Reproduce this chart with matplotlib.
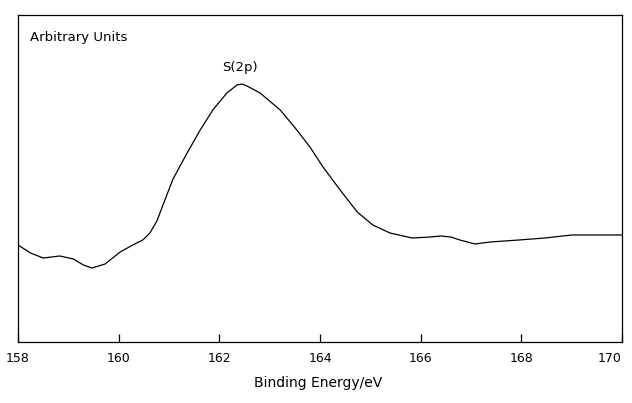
import matplotlib
matplotlib.use("Agg")
import matplotlib.pyplot as plt

# Binding energy (eV) and intensity (arbitrary units)
energy = [158.00, 158.25, 158.50, 158.83, 159.10, 159.30, 159.47, 159.73, 160.03, 160.28,
          160.48, 160.62, 160.76, 160.88, 161.08, 161.36, 161.62, 161.87, 162.15,
          162.35, 162.45, 162.55, 162.81, 163.21, 163.54, 163.80, 164.06, 164.40,
          164.74, 165.05, 165.39, 165.83, 166.19, 166.40, 166.60, 166.78, 167.08, 167.38,
          167.95, 168.47, 169.00, 169.56, 170.00]
intensity = [97, 89, 84, 86, 83, 77, 74, 78, 90, 97,
             102, 109, 121, 137, 163, 189, 212, 232, 249,
             257, 258, 256, 249, 232, 212, 195, 175, 152,
             130, 117, 109, 104, 105, 106, 105, 102, 98, 100,
             102, 104, 107, 107, 107]
xticks = [158, 160, 162, 164, 166, 168, 170]

W, H = 632, 403
fig = plt.figure(figsize=(W / 100, H / 100), dpi=100)
ax = fig.add_axes([18 / W, (H - 342) / H, (622 - 18) / W, (342 - 15) / H])
ax.plot(energy, intensity, color="black", lw=0.9)
ax.set_xlim(158, 170)
ax.set_ylim(0, 327)
ax.set_xticks(xticks)
ax.set_xticklabels([str(t) for t in xticks], fontsize=9)
ax.get_xticklabels()[-1].set_horizontalalignment("right")
ax.set_yticks([])
ax.tick_params(axis="x", direction="in", length=6, width=0.9, pad=7)
for s in ax.spines.values():
    s.set_linewidth(0.9)
fig.text(30 / W, 1 - 38 / H, "Arbitrary Units", fontsize=9.5,
         ha="left", va="center")
ax.annotate("S(2p)", xy=(162.4, 258), xytext=(0, 12), textcoords="offset points",
            ha="center", va="center", fontsize=9.5)
fig.text(318 / W, 1 - 383 / H, "Binding Energy/eV", ha="center", va="center", fontsize=10)
fig.savefig("out.png", dpi=100)
